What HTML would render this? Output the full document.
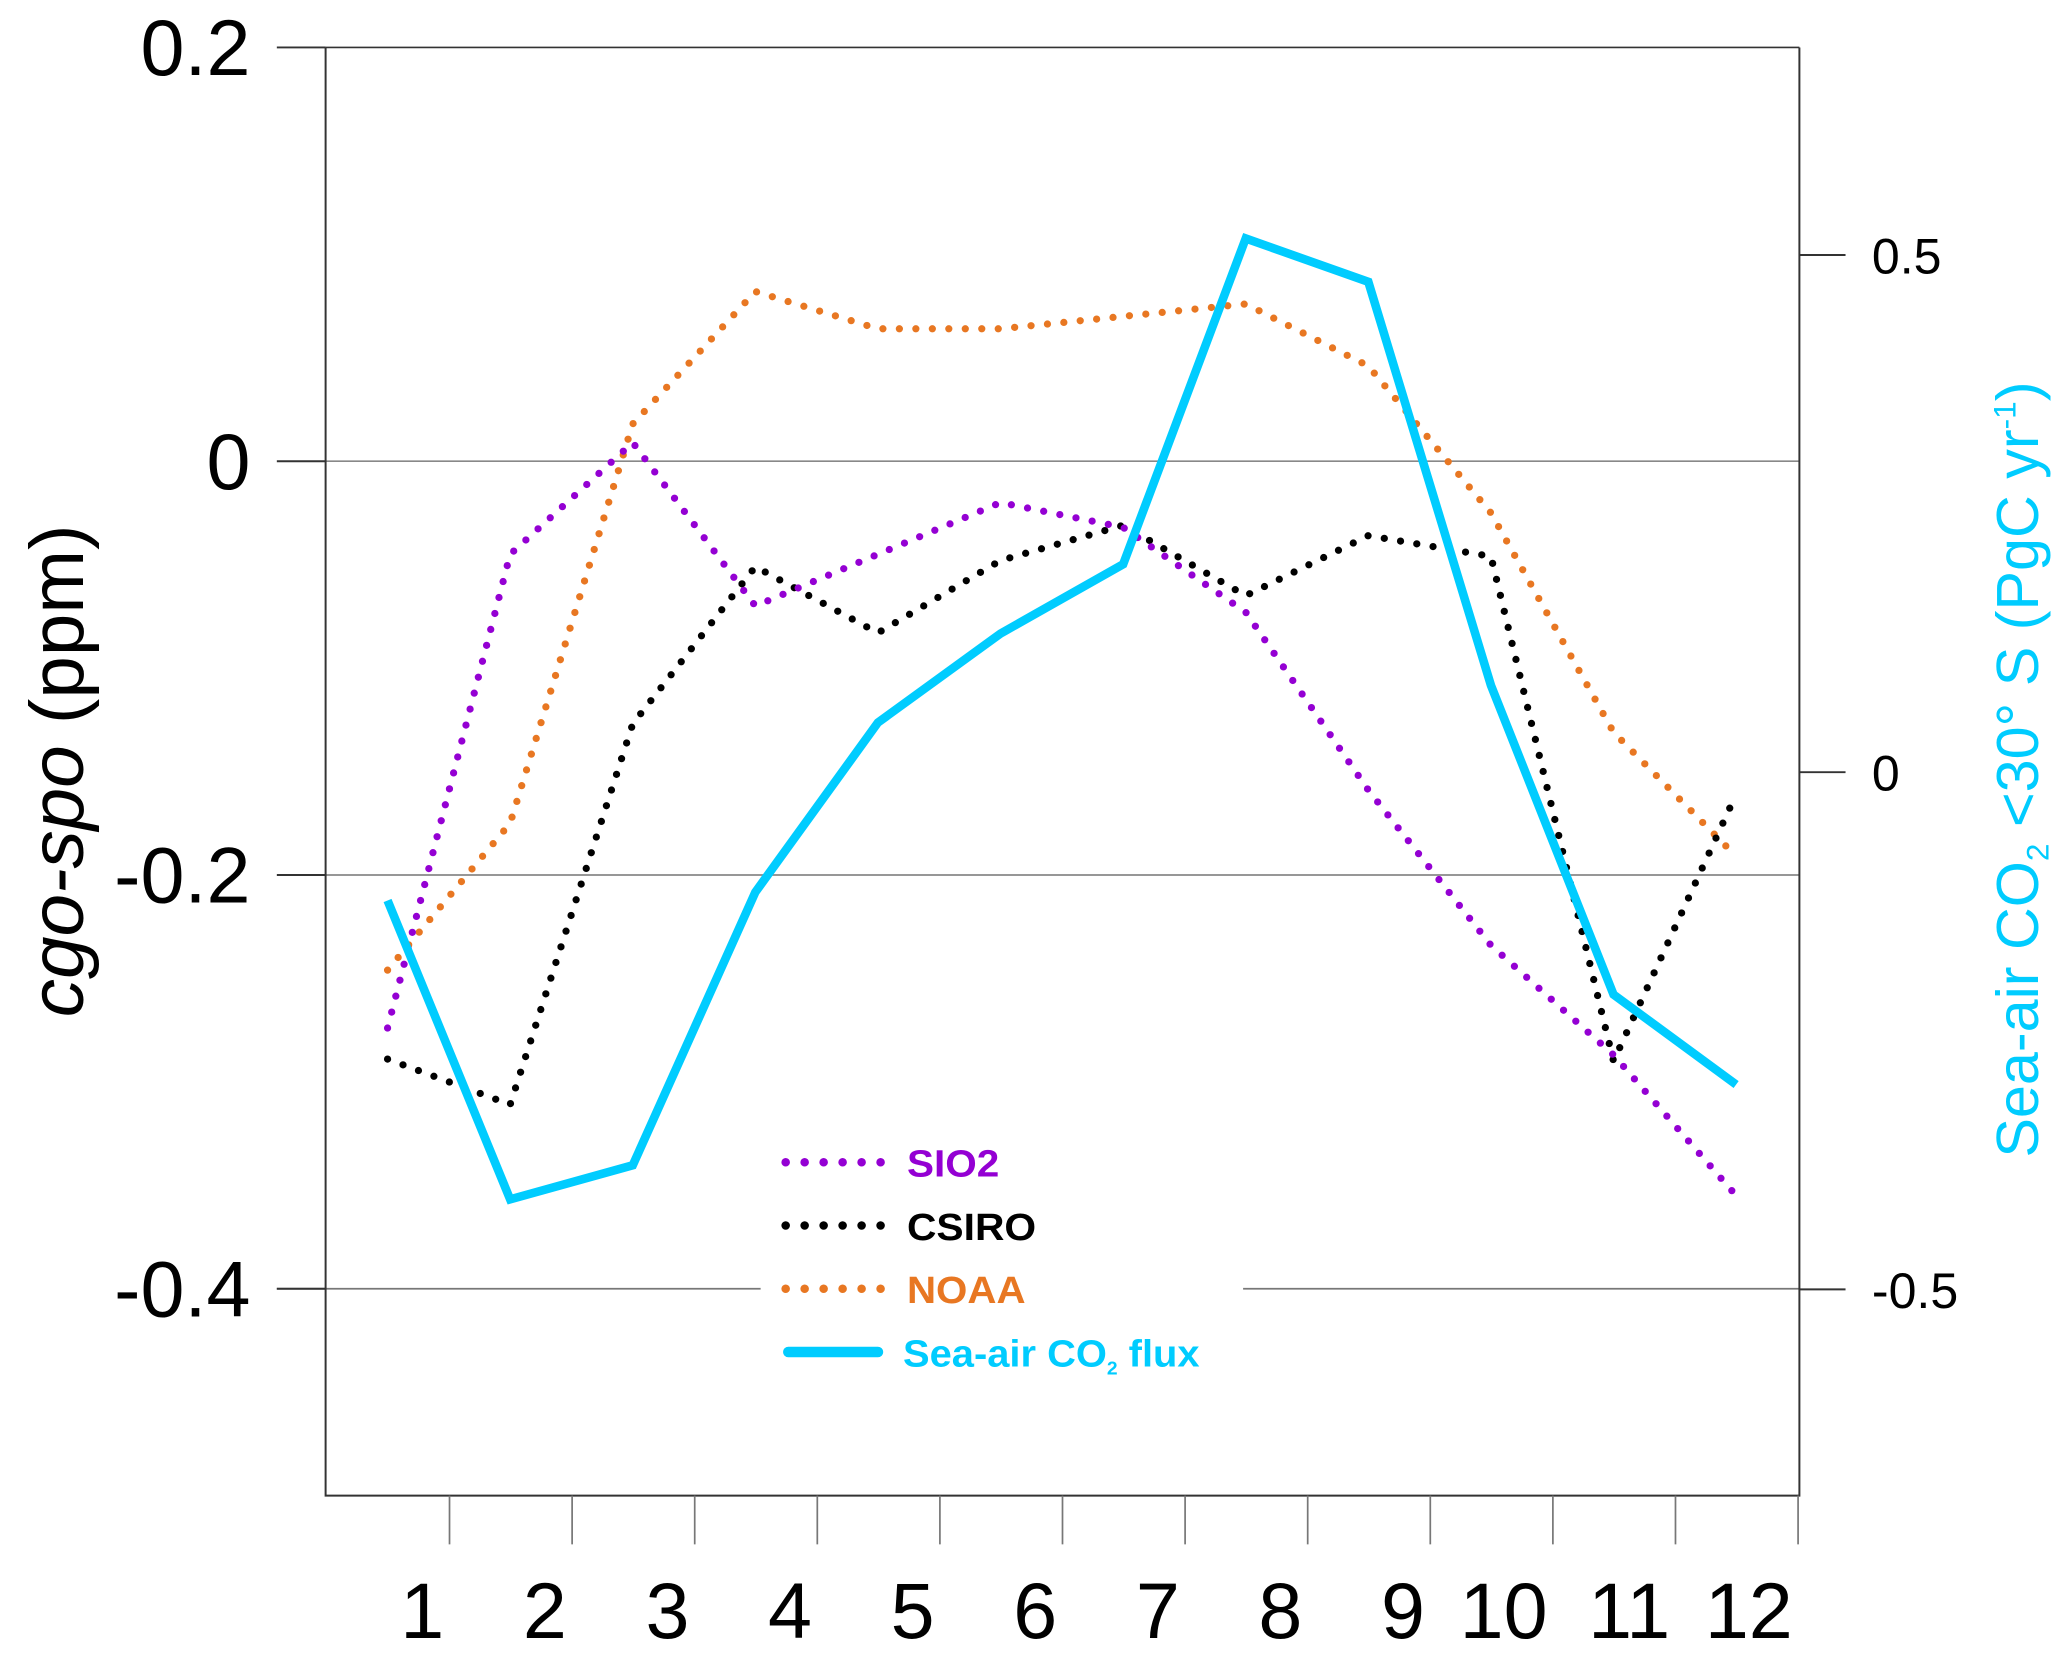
<!DOCTYPE html>
<html><head><meta charset="utf-8"><style>
html,body{margin:0;padding:0;background:#fff;}
svg{display:block;}
text{font-family:"Liberation Sans",Arial,sans-serif;}
</style></head><body>
<svg id="chart" width="2067" height="1659" viewBox="0 0 1568 1259" preserveAspectRatio="none" xmlns="http://www.w3.org/2000/svg">
<g id="axes"></g>
<g id="series"></g>
<g id="legend">
  <line x1="596" y1="882" x2="668" y2="882" stroke="#9400d3" stroke-width="6.5" stroke-linecap="round" stroke-dasharray="0 14.4"/>
  <text x="688" y="893" font-size="29" font-weight="bold" fill="#9400d3" textLength="70" lengthAdjust="spacingAndGlyphs">SIO2</text>
  <line x1="596" y1="930" x2="668" y2="930" stroke="#000" stroke-width="6.5" stroke-linecap="round" stroke-dasharray="0 14.4"/>
  <text x="688" y="941" font-size="29" font-weight="bold" fill="#000" textLength="98" lengthAdjust="spacingAndGlyphs">CSIRO</text>
  <line x1="596" y1="978" x2="668" y2="978" stroke="#e87722" stroke-width="6.5" stroke-linecap="round" stroke-dasharray="0 14.4"/>
  <text x="688" y="989" font-size="29" font-weight="bold" fill="#e87722" textLength="90" lengthAdjust="spacingAndGlyphs">NOAA</text>
  <line x1="598" y1="1026" x2="666" y2="1026" stroke="#00ccff" stroke-width="8" stroke-linecap="round"/>
  <text x="685" y="1037" font-size="29" font-weight="bold" fill="#00ccff" textLength="225" lengthAdjust="spacingAndGlyphs">Sea-air CO<tspan font-size="14" dy="6">2</tspan><tspan dy="-6"> flux</tspan></text>
</g>
<text transform="translate(63,585) rotate(-90)" text-anchor="middle" font-size="58" fill="#000"><tspan font-style="italic">cgo-spo</tspan> (ppm)</text>
<text transform="translate(1546,584) rotate(-90)" text-anchor="middle" font-size="45" fill="#00ccff">Sea-air CO<tspan font-size="24" dy="8">2</tspan><tspan dy="-8"> &lt;30° S (PgC yr</tspan><tspan font-size="24" dy="-17">-1</tspan><tspan dy="17">)</tspan></text>
</svg>
<script>
const months = [1,2,3,4,5,6,7,8,9,10,11,12];
const sio2 = [-0.274,-0.045,0.009,-0.070,-0.045,-0.020,-0.032,-0.073,-0.159,-0.234,-0.287,-0.355];
const csiro = [-0.289,-0.311,-0.127,-0.051,-0.083,-0.048,-0.031,-0.065,-0.036,-0.046,-0.290,-0.161];
const noaa = [-0.246,-0.175,0.018,0.082,0.064,0.064,0.070,0.076,0.046,-0.025,-0.131,-0.191];
const flux = [-0.124,-0.413,-0.380,-0.116,0.048,0.134,0.201,0.516,0.474,0.084,-0.215,-0.302];
const leftTicks = [0.2,0,-0.2,-0.4];
const leftTickLabels = ["0.2","0","-0.2","-0.4"];
const rightTicks = [0.5,0,-0.5];
const rightTickLabels = ["0.5","0","-0.5"];

const NS="http://www.w3.org/2000/svg";
const L=247,R=1365,T=36,B=1135;
const yL=v=>350-v*1570;
const yR=v=>586-v*785;
const xM=m=>294+(m-1)*93;
const tickX=i=>248+i*93.0;
function mk(tag,attrs,parent){const e=document.createElementNS(NS,tag);for(const k in attrs)e.setAttribute(k,attrs[k]);parent.appendChild(e);return e;}
const ax=document.getElementById('axes');
leftTicks.forEach((v,i)=>{
  const y=yL(v);
  let ln;
  if(v===-0.4){
    ln=mk('path',{d:`M210 ${y}H577M943 ${y}H${R}`,stroke:'#777','stroke-width':1.3,fill:'none'},ax);
    mk('line',{x1:210,y1:y,x2:L,y2:y,stroke:'#333','stroke-width':1.5},ax);
  } else {
    ln=mk('line',{x1:L,y1:y,x2:R,y2:y,stroke:(v===0.2?'#333':'#888'),'stroke-width':1.3},ax);
    mk('line',{x1:210,y1:y,x2:L,y2:y,stroke:'#333','stroke-width':1.5},ax);
  }
  
  
  const t=mk('text',{x:190,y:y+21,'text-anchor':'end','font-size':60,fill:'#000'},ax);
  t.textContent=leftTickLabels[i];
  
  
});
const fr=mk('path',{d:`M${L} ${T}V${B}H${R}V${T}`,stroke:'#333','stroke-width':1.5,fill:'none'},ax);


rightTicks.forEach((v,i)=>{
  const y=yR(v);
  mk('line',{x1:R,y1:y,x2:1400,y2:y,stroke:'#333','stroke-width':1.5},ax);
  const t=mk('text',{x:1420,y:y+14,'font-size':38,fill:'#000'},ax);
  t.textContent=rightTickLabels[i];
  
  
});
months.forEach((m,i)=>{
  const x=tickX(i+1);
  mk('line',{x1:x,y1:B,x2:x,y2:1172,stroke:'#777','stroke-width':1.3},ax);
  const t=mk('text',{x:x-4,y:1243,'text-anchor':'end','font-size':60,fill:'#000'},ax);
  t.textContent=String(m);
  
  
});
const sg=document.getElementById('series');
function line(vals,yf,color,dotted,name){
  const pts=vals.map((v,i)=>xM(months[i])+','+yf(v)).join(' ');
  const a={points:pts,fill:'none',stroke:color,'stroke-linejoin':'miter','stroke-linecap':'round'};
  if(dotted){a['stroke-width']=5.5;a['stroke-dasharray']='0 12.5';}else{a['stroke-width']=6.5;a['stroke-linecap']='butt';}
  const p=mk('polyline',a,sg);
  
  
}
line(noaa,yL,'#e87722',true,'noaa-line');
line(csiro,yL,'#000',true,'csiro-line');
line(sio2,yL,'#9400d3',true,'sio2-line');
line(flux,yR,'#00ccff',false,'flux-line');
</script>
</body></html>
